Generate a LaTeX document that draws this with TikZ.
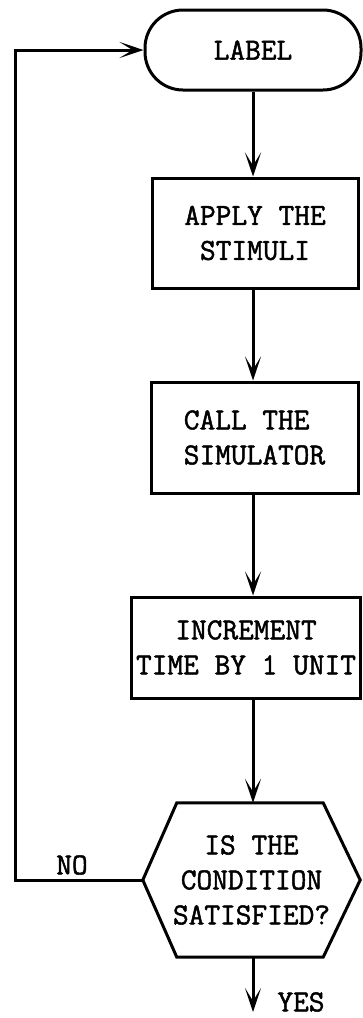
\documentclass[tikz,border=0pt]{standalone}
\usepackage{fontspec}
\newfontfamily\typer{Latin Modern Mono}[FakeBold=1.6]
\usetikzlibrary{arrows.meta,calc}
\tikzset{
  flow/.style={line width=3pt},
  arr/.style={flow,-{Stealth[length=24pt,width=16pt,inset=13pt]}},
  boxnode/.style={flow,draw,rectangle,inner sep=0pt,align=center},
  termnode/.style={flow,draw,rectangle,rounded corners=38pt,inner sep=0pt,minimum width=216pt,minimum height=80pt},
  decnode/.style={rectangle,inner sep=0pt,align=center,minimum width=217pt,minimum height=154pt},
  tag/.style={inner sep=0pt}
}
\begin{document}
\begin{tikzpicture}[x=1pt,y=-1pt,every node/.style={font=\typer\fontsize{30.5}{35}\selectfont}]
  \useasboundingbox (0,0) rectangle (362,1018);

  % process steps
  \node[termnode] (label) at (253,50) {LABEL};
  \node[boxnode,minimum width=206pt,minimum height=110pt] (apply) at (255,233) {APPLY THE\\STIMULI};
  \node[boxnode,minimum width=207pt,minimum height=111pt,align=left] (call) at (254.5,437.5) {CALL THE\\SIMULATOR};
  \node[boxnode,minimum width=229pt,minimum height=101pt] (incr) at (246,647.5) {INCREMENT\\TIME BY 1 UNIT};

  % decision hexagon
  \node[decnode] (cond) at (251.5,880) {IS THE\\CONDITION\\SATISFIED?};
  \draw[flow,line join=miter] (cond.west) -- ($(cond.north west)+(34,0)$) -- ($(cond.north east)+(-37,0)$)
    -- (cond.east) -- ($(cond.south east)+(-37,0)$) -- ($(cond.south west)+(34,0)$) -- cycle;

  % flow down
  \coordinate (xline) at (253,0);
  \draw[arr] (label.south -| xline) -- (apply.north -| xline);
  \draw[arr] (apply.south -| xline) -- (call.north -| xline);
  \draw[arr] (call.south -| xline) -- (incr.north -| xline);
  \draw[arr] (incr.south -| xline) -- (cond.north -| xline);

  % exit on yes
  \coordinate (out) at (253,1012);
  \draw[arr] (cond.south -| xline) -- (out);
  \node[tag] (yes) at (301,1002) {YES};

  % loop back on no
  \coordinate (corner1) at (15,880);
  \coordinate (corner2) at (15,50);
  \draw[arr] (cond.west) -- (corner1) -- (corner2) -- (label.west);
  \node[tag] (no) at (72,865) {NO};
\end{tikzpicture}
\end{document}
